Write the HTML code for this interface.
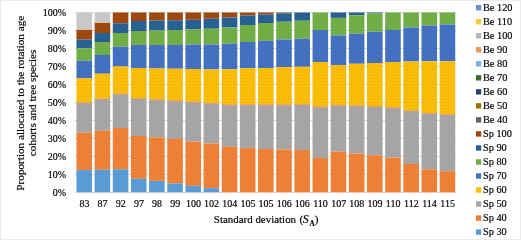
<!DOCTYPE html>
<html><head><meta charset="utf-8"><title>chart</title>
<style>
html,body{margin:0;padding:0;background:#fff;}
svg{display:block;}
#g{filter:blur(0.35px);}
text{font-family:"Liberation Serif",serif;font-size:10px;fill:#000;stroke:#000;stroke-width:0.18px;}
</style></head><body>
<svg width="521" height="240" viewBox="0 0 521 240">
<rect x="0" y="0" width="521" height="240" fill="#fff"/>
<rect x="0.5" y="0.5" width="520" height="239" fill="none" stroke="#D6D6D6" stroke-width="1" stroke-dasharray="1 1"/>
<g id="g">
<defs>
<pattern id="pgd" width="3" height="3" patternUnits="userSpaceOnUse"><rect width="3" height="3" fill="#FFC000"/><rect x="0" y="0" width="1" height="1" fill="#C89A3C" fill-opacity="0.55"/><rect x="1.5" y="1.5" width="1" height="1" fill="#C89A3C" fill-opacity="0.55"/></pattern>
<pattern id="pbl" width="4" height="4" patternUnits="userSpaceOnUse"><rect width="4" height="4" fill="#4472C4"/><rect x="0.5" y="0.5" width="1" height="1" fill="#3A4A86" fill-opacity="0.45"/><rect x="2.5" y="2.5" width="1" height="1" fill="#3A4A86" fill-opacity="0.45"/></pattern>
<pattern id="pdb" width="6" height="4" patternUnits="userSpaceOnUse"><rect width="6" height="4" fill="#255E91"/><rect x="0.5" y="0.5" width="0.9" height="0.9" fill="#7FB0E0" fill-opacity="0.4"/><rect x="3.5" y="2.5" width="0.9" height="0.9" fill="#7FB0E0" fill-opacity="0.4"/></pattern>
<pattern id="plg" width="2" height="2" patternUnits="userSpaceOnUse"><rect width="2" height="2" fill="#D0D0D0"/><rect x="0" y="0" width="1" height="1" fill="#C0C0C0"/><rect x="1" y="1" width="1" height="1" fill="#C0C0C0"/></pattern>
<pattern id="pog" width="3" height="3" patternUnits="userSpaceOnUse"><rect width="3" height="3" fill="#ED7D31"/><rect x="0" y="0" width="1" height="1" fill="#F6AE78" fill-opacity="0.3"/><rect x="1.5" y="1.5" width="1" height="1" fill="#F6AE78" fill-opacity="0.3"/></pattern>
</defs>

<line x1="74.5" x2="456.5" y1="192.5" y2="192.5" stroke="#D9D9D9" stroke-width="1"/>
<text x="66.2" y="195.80" text-anchor="end">0%</text>
<line x1="74.5" x2="456.5" y1="174.5" y2="174.5" stroke="#D9D9D9" stroke-width="1"/>
<text x="66.2" y="177.80" text-anchor="end">10%</text>
<line x1="74.5" x2="456.5" y1="156.5" y2="156.5" stroke="#D9D9D9" stroke-width="1"/>
<text x="66.2" y="159.80" text-anchor="end">20%</text>
<line x1="74.5" x2="456.5" y1="138.5" y2="138.5" stroke="#D9D9D9" stroke-width="1"/>
<text x="66.2" y="141.80" text-anchor="end">30%</text>
<line x1="74.5" x2="456.5" y1="120.5" y2="120.5" stroke="#D9D9D9" stroke-width="1"/>
<text x="66.2" y="123.80" text-anchor="end">40%</text>
<line x1="74.5" x2="456.5" y1="102.5" y2="102.5" stroke="#D9D9D9" stroke-width="1"/>
<text x="66.2" y="105.80" text-anchor="end">50%</text>
<line x1="74.5" x2="456.5" y1="84.5" y2="84.5" stroke="#D9D9D9" stroke-width="1"/>
<text x="66.2" y="87.80" text-anchor="end">60%</text>
<line x1="74.5" x2="456.5" y1="66.5" y2="66.5" stroke="#D9D9D9" stroke-width="1"/>
<text x="66.2" y="69.80" text-anchor="end">70%</text>
<line x1="74.5" x2="456.5" y1="48.5" y2="48.5" stroke="#D9D9D9" stroke-width="1"/>
<text x="66.2" y="51.80" text-anchor="end">80%</text>
<line x1="74.5" x2="456.5" y1="30.5" y2="30.5" stroke="#D9D9D9" stroke-width="1"/>
<text x="66.2" y="33.80" text-anchor="end">90%</text>
<line x1="74.5" x2="456.5" y1="12.5" y2="12.5" stroke="#D9D9D9" stroke-width="1"/>
<text x="66.2" y="15.80" text-anchor="end">100%</text>
<rect x="76.45" y="12.5" width="15.6" height="17.50" fill="url(#plg)"/>
<rect x="76.45" y="29.5" width="15.6" height="0.7" fill="#F4B183"/>
<rect x="76.45" y="30" width="15.6" height="9.50" fill="#9E480E"/>
<rect x="76.45" y="39.5" width="15.6" height="8.75" fill="url(#pdb)"/>
<rect x="76.45" y="48.25" width="15.6" height="12.50" fill="#70AD47"/>
<rect x="76.45" y="60.75" width="15.6" height="17.50" fill="url(#pbl)"/>
<rect x="76.45" y="78.25" width="15.6" height="24.25" fill="url(#pgd)"/>
<rect x="76.45" y="102.5" width="15.6" height="30.20" fill="#A5A5A5"/>
<rect x="76.45" y="102.2" width="15.6" height="1.1" fill="#F2A25C"/>
<rect x="76.45" y="132.7" width="15.6" height="37.40" fill="url(#pog)"/>
<rect x="76.45" y="170.1" width="15.6" height="22.10" fill="#5B9BD5"/>
<text x="84.45" y="207.3" text-anchor="middle">83</text>
<rect x="94.61" y="12.5" width="15.6" height="10.50" fill="url(#plg)"/>
<rect x="94.61" y="22.5" width="15.6" height="0.7" fill="#F4B183"/>
<rect x="94.61" y="23" width="15.6" height="10.00" fill="#9E480E"/>
<rect x="94.61" y="33" width="15.6" height="9.00" fill="url(#pdb)"/>
<rect x="94.61" y="42" width="15.6" height="13.00" fill="#70AD47"/>
<rect x="94.61" y="55" width="15.6" height="18.75" fill="url(#pbl)"/>
<rect x="94.61" y="73.75" width="15.6" height="25.00" fill="url(#pgd)"/>
<rect x="94.61" y="98.75" width="15.6" height="32.05" fill="#A5A5A5"/>
<rect x="94.61" y="98.45" width="15.6" height="1.1" fill="#F2A25C"/>
<rect x="94.61" y="130.8" width="15.6" height="39.00" fill="url(#pog)"/>
<rect x="94.61" y="169.8" width="15.6" height="22.40" fill="#5B9BD5"/>
<text x="102.61" y="207.3" text-anchor="middle">87</text>
<rect x="112.77" y="12.5" width="15.6" height="10.75" fill="#9E480E"/>
<rect x="112.77" y="23.25" width="15.6" height="9.75" fill="url(#pdb)"/>
<rect x="112.77" y="33" width="15.6" height="13.75" fill="#70AD47"/>
<rect x="112.77" y="46.75" width="15.6" height="19.75" fill="url(#pbl)"/>
<rect x="112.77" y="66.5" width="15.6" height="27.25" fill="url(#pgd)"/>
<rect x="112.77" y="93.75" width="15.6" height="34.25" fill="#A5A5A5"/>
<rect x="112.77" y="93.45" width="15.6" height="1.1" fill="#F2A25C"/>
<rect x="112.77" y="128" width="15.6" height="41.30" fill="url(#pog)"/>
<rect x="112.77" y="169.3" width="15.6" height="22.90" fill="#5B9BD5"/>
<text x="120.77" y="207.3" text-anchor="middle">92</text>
<rect x="130.93" y="12.5" width="15.6" height="8.50" fill="#9E480E"/>
<rect x="130.93" y="21" width="15.6" height="10.00" fill="url(#pdb)"/>
<rect x="130.93" y="31" width="15.6" height="14.00" fill="#70AD47"/>
<rect x="130.93" y="45" width="15.6" height="23.00" fill="url(#pbl)"/>
<rect x="130.93" y="68" width="15.6" height="30.25" fill="url(#pgd)"/>
<rect x="130.93" y="98.25" width="15.6" height="37.75" fill="#A5A5A5"/>
<rect x="130.93" y="97.95" width="15.6" height="1.1" fill="#F2A25C"/>
<rect x="130.93" y="136" width="15.6" height="42.80" fill="url(#pog)"/>
<rect x="130.93" y="178.8" width="15.6" height="13.40" fill="#5B9BD5"/>
<text x="138.93" y="207.3" text-anchor="middle">97</text>
<rect x="149.09" y="12.5" width="15.6" height="8.00" fill="#9E480E"/>
<rect x="149.09" y="20.5" width="15.6" height="10.00" fill="url(#pdb)"/>
<rect x="149.09" y="30.5" width="15.6" height="14.50" fill="#70AD47"/>
<rect x="149.09" y="45" width="15.6" height="23.50" fill="url(#pbl)"/>
<rect x="149.09" y="68.5" width="15.6" height="31.00" fill="url(#pgd)"/>
<rect x="149.09" y="99.5" width="15.6" height="37.80" fill="#A5A5A5"/>
<rect x="149.09" y="99.2" width="15.6" height="1.1" fill="#F2A25C"/>
<rect x="149.09" y="137.3" width="15.6" height="43.60" fill="url(#pog)"/>
<rect x="149.09" y="180.9" width="15.6" height="11.30" fill="#5B9BD5"/>
<text x="157.09" y="207.3" text-anchor="middle">98</text>
<rect x="167.25" y="12.5" width="15.6" height="7.75" fill="#9E480E"/>
<rect x="167.25" y="20.25" width="15.6" height="9.75" fill="url(#pdb)"/>
<rect x="167.25" y="30" width="15.6" height="15.00" fill="#70AD47"/>
<rect x="167.25" y="45" width="15.6" height="23.75" fill="url(#pbl)"/>
<rect x="167.25" y="68.75" width="15.6" height="31.75" fill="url(#pgd)"/>
<rect x="167.25" y="100.5" width="15.6" height="38.40" fill="#A5A5A5"/>
<rect x="167.25" y="100.2" width="15.6" height="1.1" fill="#F2A25C"/>
<rect x="167.25" y="138.9" width="15.6" height="44.50" fill="url(#pog)"/>
<rect x="167.25" y="183.4" width="15.6" height="8.80" fill="#5B9BD5"/>
<text x="175.25" y="207.3" text-anchor="middle">99</text>
<rect x="185.41" y="12.5" width="15.6" height="7.25" fill="#9E480E"/>
<rect x="185.41" y="19.75" width="15.6" height="9.75" fill="url(#pdb)"/>
<rect x="185.41" y="29.5" width="15.6" height="15.00" fill="#70AD47"/>
<rect x="185.41" y="44.5" width="15.6" height="24.50" fill="url(#pbl)"/>
<rect x="185.41" y="69" width="15.6" height="32.75" fill="url(#pgd)"/>
<rect x="185.41" y="101.75" width="15.6" height="39.85" fill="#A5A5A5"/>
<rect x="185.41" y="101.45" width="15.6" height="1.1" fill="#F2A25C"/>
<rect x="185.41" y="141.6" width="15.6" height="44.20" fill="url(#pog)"/>
<rect x="185.41" y="185.8" width="15.6" height="6.40" fill="#5B9BD5"/>
<text x="193.41" y="207.3" text-anchor="middle">100</text>
<rect x="203.57" y="12.5" width="15.6" height="6.25" fill="#9E480E"/>
<rect x="203.57" y="18.75" width="15.6" height="10.00" fill="url(#pdb)"/>
<rect x="203.57" y="28.75" width="15.6" height="15.75" fill="#70AD47"/>
<rect x="203.57" y="44.5" width="15.6" height="25.00" fill="url(#pbl)"/>
<rect x="203.57" y="69.5" width="15.6" height="33.50" fill="url(#pgd)"/>
<rect x="203.57" y="103" width="15.6" height="40.50" fill="#A5A5A5"/>
<rect x="203.57" y="102.7" width="15.6" height="1.1" fill="#F2A25C"/>
<rect x="203.57" y="143.5" width="15.6" height="44.70" fill="url(#pog)"/>
<rect x="203.57" y="188.2" width="15.6" height="4.00" fill="#5B9BD5"/>
<text x="211.57" y="207.3" text-anchor="middle">102</text>
<rect x="221.73" y="12.5" width="15.6" height="5.00" fill="#9E480E"/>
<rect x="221.73" y="17.5" width="15.6" height="10.00" fill="url(#pdb)"/>
<rect x="221.73" y="27.5" width="15.6" height="16.25" fill="#70AD47"/>
<rect x="221.73" y="43.75" width="15.6" height="25.50" fill="url(#pbl)"/>
<rect x="221.73" y="69.25" width="15.6" height="35.25" fill="url(#pgd)"/>
<rect x="221.73" y="104.5" width="15.6" height="42.30" fill="#A5A5A5"/>
<rect x="221.73" y="104.2" width="15.6" height="1.1" fill="#F2A25C"/>
<rect x="221.73" y="146.8" width="15.6" height="45.40" fill="url(#pog)"/>
<text x="229.73" y="207.3" text-anchor="middle">104</text>
<rect x="239.89" y="12.5" width="15.6" height="3.00" fill="#9E480E"/>
<rect x="239.89" y="15.5" width="15.6" height="9.50" fill="url(#pdb)"/>
<rect x="239.89" y="25" width="15.6" height="17.00" fill="#70AD47"/>
<rect x="239.89" y="42" width="15.6" height="26.25" fill="url(#pbl)"/>
<rect x="239.89" y="68.25" width="15.6" height="36.25" fill="url(#pgd)"/>
<rect x="239.89" y="104.5" width="15.6" height="43.60" fill="#A5A5A5"/>
<rect x="239.89" y="104.2" width="15.6" height="1.1" fill="#F2A25C"/>
<rect x="239.89" y="148.1" width="15.6" height="44.10" fill="url(#pog)"/>
<text x="247.89" y="207.3" text-anchor="middle">105</text>
<rect x="258.05" y="12.5" width="15.6" height="2.00" fill="#9E480E"/>
<rect x="258.05" y="14.5" width="15.6" height="8.50" fill="url(#pdb)"/>
<rect x="258.05" y="23" width="15.6" height="17.75" fill="#70AD47"/>
<rect x="258.05" y="40.75" width="15.6" height="27.25" fill="url(#pbl)"/>
<rect x="258.05" y="68" width="15.6" height="36.50" fill="url(#pgd)"/>
<rect x="258.05" y="104.5" width="15.6" height="44.50" fill="#A5A5A5"/>
<rect x="258.05" y="104.2" width="15.6" height="1.1" fill="#F2A25C"/>
<rect x="258.05" y="149" width="15.6" height="43.20" fill="url(#pog)"/>
<text x="266.05" y="207.3" text-anchor="middle">105</text>
<rect x="276.21" y="12.5" width="15.6" height="0.75" fill="#9E480E"/>
<rect x="276.21" y="13.25" width="15.6" height="8.50" fill="url(#pdb)"/>
<rect x="276.21" y="21.75" width="15.6" height="17.75" fill="#70AD47"/>
<rect x="276.21" y="39.5" width="15.6" height="27.50" fill="url(#pbl)"/>
<rect x="276.21" y="67" width="15.6" height="37.50" fill="url(#pgd)"/>
<rect x="276.21" y="104.5" width="15.6" height="45.00" fill="#A5A5A5"/>
<rect x="276.21" y="104.2" width="15.6" height="1.1" fill="#F2A25C"/>
<rect x="276.21" y="149.5" width="15.6" height="42.70" fill="url(#pog)"/>
<text x="284.21" y="207.3" text-anchor="middle">106</text>
<rect x="294.37" y="12.5" width="15.6" height="8.25" fill="url(#pdb)"/>
<rect x="294.37" y="20.75" width="15.6" height="18.00" fill="#70AD47"/>
<rect x="294.37" y="38.75" width="15.6" height="28.00" fill="url(#pbl)"/>
<rect x="294.37" y="66.75" width="15.6" height="37.50" fill="url(#pgd)"/>
<rect x="294.37" y="104.25" width="15.6" height="45.75" fill="#A5A5A5"/>
<rect x="294.37" y="103.95" width="15.6" height="1.1" fill="#F2A25C"/>
<rect x="294.37" y="150" width="15.6" height="42.20" fill="url(#pog)"/>
<text x="302.37" y="207.3" text-anchor="middle">106</text>
<rect x="312.53" y="12.5" width="15.6" height="17.50" fill="#70AD47"/>
<rect x="312.53" y="30" width="15.6" height="32.00" fill="url(#pbl)"/>
<rect x="312.53" y="62" width="15.6" height="44.75" fill="url(#pgd)"/>
<rect x="312.53" y="106.75" width="15.6" height="51.15" fill="#A5A5A5"/>
<rect x="312.53" y="106.45" width="15.6" height="1.1" fill="#F2A25C"/>
<rect x="312.53" y="157.9" width="15.6" height="34.30" fill="url(#pog)"/>
<text x="320.53" y="207.3" text-anchor="middle">110</text>
<rect x="330.69" y="12.5" width="15.6" height="5.40" fill="url(#pdb)"/>
<rect x="330.69" y="17.9" width="15.6" height="17.60" fill="#70AD47"/>
<rect x="330.69" y="35.5" width="15.6" height="29.50" fill="url(#pbl)"/>
<rect x="330.69" y="65" width="15.6" height="40.00" fill="url(#pgd)"/>
<rect x="330.69" y="105" width="15.6" height="46.70" fill="#A5A5A5"/>
<rect x="330.69" y="104.7" width="15.6" height="1.1" fill="#F2A25C"/>
<rect x="330.69" y="151.7" width="15.6" height="40.50" fill="url(#pog)"/>
<text x="338.69" y="207.3" text-anchor="middle">107</text>
<rect x="348.85" y="12.5" width="15.6" height="2.80" fill="url(#pdb)"/>
<rect x="348.85" y="15.3" width="15.6" height="18.45" fill="#70AD47"/>
<rect x="348.85" y="33.75" width="15.6" height="30.00" fill="url(#pbl)"/>
<rect x="348.85" y="63.75" width="15.6" height="41.75" fill="url(#pgd)"/>
<rect x="348.85" y="105.5" width="15.6" height="48.10" fill="#A5A5A5"/>
<rect x="348.85" y="105.2" width="15.6" height="1.1" fill="#F2A25C"/>
<rect x="348.85" y="153.6" width="15.6" height="38.60" fill="url(#pog)"/>
<text x="356.85" y="207.3" text-anchor="middle">108</text>
<rect x="367.01" y="12.5" width="15.6" height="1.00" fill="url(#pdb)"/>
<rect x="367.01" y="13.5" width="15.6" height="18.25" fill="#70AD47"/>
<rect x="367.01" y="31.75" width="15.6" height="31.25" fill="url(#pbl)"/>
<rect x="367.01" y="63" width="15.6" height="43.25" fill="url(#pgd)"/>
<rect x="367.01" y="106.25" width="15.6" height="48.95" fill="#A5A5A5"/>
<rect x="367.01" y="105.95" width="15.6" height="1.1" fill="#F2A25C"/>
<rect x="367.01" y="155.2" width="15.6" height="37.00" fill="url(#pog)"/>
<text x="375.01" y="207.3" text-anchor="middle">109</text>
<rect x="385.17" y="12.5" width="15.6" height="17.50" fill="#70AD47"/>
<rect x="385.17" y="30" width="15.6" height="32.00" fill="url(#pbl)"/>
<rect x="385.17" y="62" width="15.6" height="45.50" fill="url(#pgd)"/>
<rect x="385.17" y="107.5" width="15.6" height="50.10" fill="#A5A5A5"/>
<rect x="385.17" y="107.2" width="15.6" height="1.1" fill="#F2A25C"/>
<rect x="385.17" y="157.6" width="15.6" height="34.60" fill="url(#pog)"/>
<text x="393.17" y="207.3" text-anchor="middle">110</text>
<rect x="403.33" y="12.5" width="15.6" height="15.00" fill="#70AD47"/>
<rect x="403.33" y="27.5" width="15.6" height="34.00" fill="url(#pbl)"/>
<rect x="403.33" y="61.5" width="15.6" height="49.00" fill="url(#pgd)"/>
<rect x="403.33" y="110.5" width="15.6" height="53.40" fill="#A5A5A5"/>
<rect x="403.33" y="110.2" width="15.6" height="1.1" fill="#F2A25C"/>
<rect x="403.33" y="163.9" width="15.6" height="28.30" fill="url(#pog)"/>
<text x="411.33" y="207.3" text-anchor="middle">112</text>
<rect x="421.49" y="12.5" width="15.6" height="13.00" fill="#70AD47"/>
<rect x="421.49" y="25.5" width="15.6" height="35.75" fill="url(#pbl)"/>
<rect x="421.49" y="61.25" width="15.6" height="51.75" fill="url(#pgd)"/>
<rect x="421.49" y="113" width="15.6" height="56.30" fill="#A5A5A5"/>
<rect x="421.49" y="112.7" width="15.6" height="1.1" fill="#F2A25C"/>
<rect x="421.49" y="169.3" width="15.6" height="22.90" fill="url(#pog)"/>
<text x="429.49" y="207.3" text-anchor="middle">114</text>
<rect x="439.65" y="12.5" width="15.6" height="12.00" fill="#70AD47"/>
<rect x="439.65" y="24.5" width="15.6" height="36.75" fill="url(#pbl)"/>
<rect x="439.65" y="61.25" width="15.6" height="53.00" fill="url(#pgd)"/>
<rect x="439.65" y="114.25" width="15.6" height="56.95" fill="#A5A5A5"/>
<rect x="439.65" y="113.95" width="15.6" height="1.1" fill="#F2A25C"/>
<rect x="439.65" y="171.2" width="15.6" height="21.00" fill="url(#pog)"/>
<text x="447.65" y="207.3" text-anchor="middle">115</text>
<rect x="476" y="5.00" width="5.2" height="5.4" fill="#698ED0"/>
<text x="483" y="10.80" style="font-size:10.3px">Be 120</text>
<rect x="476" y="19.02" width="5.2" height="5.4" fill="#FFCD33"/>
<text x="483" y="24.82" style="font-size:10.3px">Be 110</text>
<rect x="476" y="33.05" width="5.2" height="5.4" fill="#B7B7B7"/>
<text x="483" y="38.85" style="font-size:10.3px">Be 100</text>
<rect x="476" y="47.08" width="5.2" height="5.4" fill="#F1975A"/>
<text x="483" y="52.88" style="font-size:10.3px">Be 90</text>
<rect x="476" y="61.10" width="5.2" height="5.4" fill="#7CAFDD"/>
<text x="483" y="66.90" style="font-size:10.3px">Be 80</text>
<rect x="476" y="75.12" width="5.2" height="5.4" fill="#43682B"/>
<text x="483" y="80.92" style="font-size:10.3px">Be 70</text>
<rect x="476" y="89.15" width="5.2" height="5.4" fill="#264478"/>
<text x="483" y="94.95" style="font-size:10.3px">Be 60</text>
<rect x="476" y="103.17" width="5.2" height="5.4" fill="#997300"/>
<text x="483" y="108.97" style="font-size:10.3px">Be 50</text>
<rect x="476" y="117.20" width="5.2" height="5.4" fill="#636363"/>
<text x="483" y="123.00" style="font-size:10.3px">Be 40</text>
<rect x="476" y="131.23" width="5.2" height="5.4" fill="#9E480E"/>
<text x="483" y="137.03" style="font-size:10.3px">Sp 100</text>
<rect x="476" y="145.25" width="5.2" height="5.4" fill="#255E91"/>
<text x="483" y="151.05" style="font-size:10.3px">Sp 90</text>
<rect x="476" y="159.28" width="5.2" height="5.4" fill="#70AD47"/>
<text x="483" y="165.08" style="font-size:10.3px">Sp 80</text>
<rect x="476" y="173.30" width="5.2" height="5.4" fill="#4472C4"/>
<text x="483" y="179.10" style="font-size:10.3px">Sp 70</text>
<rect x="476" y="187.33" width="5.2" height="5.4" fill="#FFC000"/>
<text x="483" y="193.13" style="font-size:10.3px">Sp 60</text>
<rect x="476" y="201.35" width="5.2" height="5.4" fill="#A5A5A5"/>
<text x="483" y="207.15" style="font-size:10.3px">Sp 50</text>
<rect x="476" y="215.38" width="5.2" height="5.4" fill="#ED7D31"/>
<text x="483" y="221.18" style="font-size:10.3px">Sp 40</text>
<rect x="476" y="229.40" width="5.2" height="5.4" fill="#5B9BD5"/>
<text x="483" y="235.20" style="font-size:10.3px">Sp 30</text>
<text x="213.8" y="223.3" style="font-size:11.1px" textLength="82.3" lengthAdjust="spacingAndGlyphs">Standard deviation</text>
<text x="299.6" y="223.3" style="font-size:11.1px">(</text>
<text x="302.7" y="223.4" style="font-size:11.8px;font-style:italic">S</text>
<text x="309.5" y="225.6" style="font-size:7.2px;font-weight:bold">A</text>
<text x="314.8" y="223.3" style="font-size:11.1px">)</text>
<text transform="translate(24.4,103.2) rotate(-90)" text-anchor="middle" style="font-size:11.2px">Proportion allocated to the rotation age</text>
<text transform="translate(36.3,102.9) rotate(-90)" text-anchor="middle" style="font-size:11.2px">cohorts and tree species</text>
</g></svg></body></html>
